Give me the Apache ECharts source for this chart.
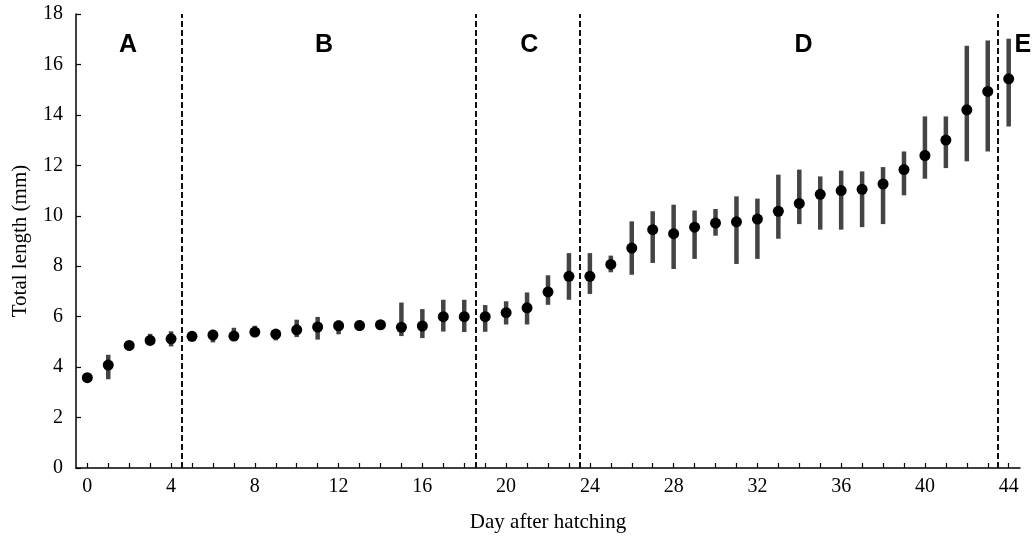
<!DOCTYPE html>
<html>
<head>
<meta charset="utf-8">
<script src="https://cdn.jsdelivr.net/npm/echarts@6/dist/echarts.min.js"></script>
<style>
html,body{margin:0;padding:0;background:#fff;}
#chart{width:1033px;height:538px;}
</style>
</head>
<body>
<div id="chart"></div>
<script>
// ---- data ----
var days = [0,1,2,3,4,5,6,7,8,9,10,11,12,13,14,15,16,17,18,19,20,21,22,23,24,25,26,27,28,29,30,31,32,33,34,35,36,37,38,39,40,41,42,43,44];
var meanLength = [3.58,4.08,4.86,5.06,5.12,5.22,5.27,5.23,5.39,5.31,5.48,5.59,5.64,5.65,5.68,5.58,5.63,6.0,6.0,6.0,6.16,6.35,6.98,7.6,7.6,8.07,8.72,9.45,9.29,9.55,9.71,9.76,9.87,10.18,10.49,10.85,11.0,11.05,11.26,11.83,12.39,13.0,14.2,14.93,15.43];
var lowLength = [3.48,3.52,4.66,4.88,4.82,5.02,4.98,5.04,5.19,5.06,5.19,5.09,5.3,5.45,5.55,5.23,5.15,5.41,5.39,5.4,5.69,5.69,6.47,6.67,6.9,7.76,7.66,8.13,7.89,8.29,9.21,8.09,8.29,9.09,9.67,9.45,9.45,9.55,9.67,10.81,11.47,11.89,12.16,12.55,13.54];
var highLength = [3.68,4.49,5.02,5.32,5.42,5.38,5.48,5.56,5.64,5.48,5.88,5.99,5.85,5.85,5.82,6.56,6.3,6.67,6.67,6.46,6.61,6.96,7.64,8.52,8.52,8.42,9.78,10.18,10.44,10.21,10.27,10.77,10.68,11.63,11.83,11.56,11.79,11.76,11.93,12.55,13.94,13.94,16.74,16.95,17.02];
var phaseBoundaries = [4.5, 18.55, 23.5, 43.5];
var phaseNames = ['A','B','C','D','E'];
var phaseNameX = [1.95, 11.3, 21.1, 34.2, 44.68];
var phaseNameY = [16.75, 16.75, 16.75, 16.75, 16.75];
var xTickValues = [0,1,2,3,4,5,6,7,8,9,10,11,12,13,14,15,16,17,18,19,20,21,22,23,24,25,26,27,28,29,30,31,32,33,34,35,36,37,38,39,40,41,42,43,44];
var xLabelValues = [0,4,8,12,16,20,24,28,32,36,40,44];
var xAxisTitle = 'Day after hatching';
var yAxisTitle = 'Total length (mm)';

// ---- build ----
var meanData = days.map(function(d,i){ return [d, meanLength[i]]; });
var barData = days.map(function(d,i){ return [d, lowLength[i], highLength[i]]; });
var phaseData = phaseNames.map(function(n,i){ return [phaseNameX[i], phaseNameY[i], n]; });

var serif = '"Liberation Serif","Times New Roman",serif';
var chart = echarts.init(document.getElementById('chart'), null, {renderer:'canvas'});
chart.setOption({
  animation:false,
  backgroundColor:'#fff',
  grid:{left:76, right:13, top:14, bottom:70, containLabel:false, outerBoundsMode:'none'},
  xAxis:{
    type:'value', min:-0.54, max:44.54,
    name:xAxisTitle, nameLocation:'middle', nameGap:44,
    nameTextStyle:{fontFamily:serif, fontSize:21, color:'#000'},
    axisLine:{show:true, onZero:false, lineStyle:{color:'#000', width:1.5}},
    axisTick:{show:true, inside:true, length:5, customValues:xTickValues, lineStyle:{color:'#000', width:1.2}},
    axisLabel:{customValues:xLabelValues, fontFamily:serif, fontSize:20, color:'#000', margin:9},
    splitLine:{show:false}
  },
  yAxis:{
    type:'value', min:0, max:18, interval:2,
    name:yAxisTitle, nameLocation:'middle', nameGap:45,
    nameTextStyle:{fontFamily:serif, fontSize:21, color:'#000'},
    axisLine:{show:true, onZero:false, lineStyle:{color:'#000', width:1.5}},
    axisTick:{show:true, inside:true, length:5, lineStyle:{color:'#000', width:1.2}},
    axisLabel:{fontFamily:serif, fontSize:20, color:'#000', margin:13},
    splitLine:{show:false}
  },
  series:[
    {
      type:'custom',
      data:barData,
      encode:{x:0, y:[1,2]},
      clip:false,
      renderItem:function(params, api){
        var lo = api.coord([api.value(0), api.value(1)]);
        var hi = api.coord([api.value(0), api.value(2)]);
        return {type:'line', shape:{x1:lo[0], y1:lo[1], x2:hi[0], y2:hi[1]},
                style:{stroke:'#444', lineWidth:4.5}};
      },
      markLine:{
        silent:true, symbol:['none','none'],
        label:{show:false},
        lineStyle:{color:'#111', width:2, type:[6,3]},
        data:phaseBoundaries.map(function(v){ return {xAxis:v}; })
      },
      z:2
    },
    {
      type:'scatter',
      data:meanData,
      symbol:'circle', symbolSize:11,
      itemStyle:{color:'#000', opacity:1},
      z:3
    },
    {
      type:'custom',
      data:phaseData,
      encode:{x:0, y:1},
      clip:false,
      renderItem:function(params, api){
        var p = api.coord([api.value(0), api.value(1)]);
        return {type:'text', x:p[0], y:p[1],
                style:{text:phaseNames[params.dataIndex], fill:'#000',
                       font:'bold 25px "Liberation Sans",Arial,sans-serif',
                       align:'center', verticalAlign:'middle'}};
      },
      z:4
    }
  ]
});
</script>
</body>
</html>
